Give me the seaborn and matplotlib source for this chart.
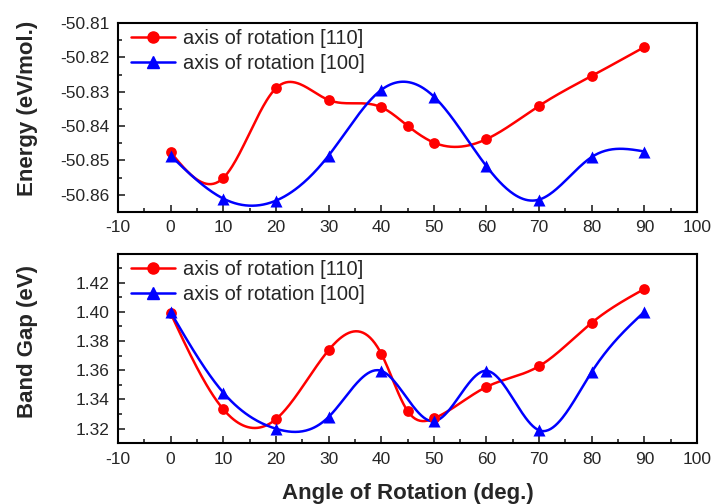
import numpy as np
import seaborn as sns
import matplotlib
matplotlib.use("Agg")
import matplotlib.pyplot as plt
from matplotlib.lines import Line2D
from matplotlib.ticker import MultipleLocator, FormatStrFormatter

# angles (deg.)
angle_110 = [0, 10, 20, 30, 40, 45, 50, 60, 70, 80, 90]
angle_100 = [0, 10, 20, 30, 40, 50, 60, 70, 80, 90]

# energy (eV/mol.)
energy_110 = [-50.8476, -50.8551, -50.8290, -50.8324, -50.8345, -50.8399,
              -50.8448, -50.8438, -50.8341, -50.8254, -50.8170]
energy_100 = [-50.8486, -50.8611, -50.8617, -50.8486, -50.8295, -50.8314,
              -50.8517, -50.8614, -50.8490, -50.8474]

# band gap (eV)
gap_110 = [1.3989, 1.3333, 1.3265, 1.3737, 1.3714, 1.3322,
           1.3270, 1.3486, 1.3628, 1.3925, 1.4156]
gap_100 = [1.3997, 1.3447, 1.3200, 1.3280, 1.3596, 1.3251,
           1.3596, 1.3189, 1.3589, 1.4000]

labels = ["axis of rotation [110]", "axis of rotation [100]"]
colors = ["#ff0000", "#0000ff"]
markers = ["o", "^"]


def smooth(x, y, n=400):
    # natural cubic spline through the points, for drawing the curve only
    x = np.asarray(x, float)
    y = np.asarray(y, float)
    h = np.diff(x)
    m = len(x)
    A = np.zeros((m, m))
    b = np.zeros(m)
    A[0, 0] = A[-1, -1] = 1
    for i in range(1, m - 1):
        A[i, i - 1] = h[i - 1]
        A[i, i] = 2 * (h[i - 1] + h[i])
        A[i, i + 1] = h[i]
        b[i] = 6 * ((y[i + 1] - y[i]) / h[i] - (y[i] - y[i - 1]) / h[i - 1])
    M = np.linalg.solve(A, b)
    xs = np.linspace(x[0], x[-1], n)
    k = np.clip(np.searchsorted(x, xs) - 1, 0, m - 2)
    t0 = x[k + 1] - xs
    t1 = xs - x[k]
    hk = h[k]
    ys = (M[k] * t0 ** 3 + M[k + 1] * t1 ** 3) / (6 * hk) \
        + (y[k] / hk - M[k] * hk / 6) * t0 + (y[k + 1] / hk - M[k + 1] * hk / 6) * t1
    return xs, ys


sns.set_style("ticks")
plt.rcParams['font.family'] = ['Liberation Sans', 'DejaVu Sans']
plt.rcParams['axes.unicode_minus'] = False

fig = plt.figure(figsize=(7.13, 5.04), dpi=100)
ax1 = fig.add_axes([0.1655, 0.5794, 0.8121, 0.375])
ax2 = fig.add_axes([0.1655, 0.1204, 0.8121, 0.3756])

panels = [
    (ax1, [energy_110, energy_100], "Energy (eV/mol.)", (-50.865, -50.81), 0.01, 0.005, 0.55),
    (ax2, [gap_110, gap_100], "Band Gap (eV)", (1.31, 1.4395), 0.02, 0.01, 0.54),
]

for ax, series, ylab, ylim, major, minor, ly in panels:
    for xs, ys, col, mk in zip([angle_110, angle_100], series, colors, markers):
        sx, sy = smooth(xs, ys)
        sns.lineplot(x=sx, y=sy, color=col, linewidth=1.8, ax=ax, legend=False,
                     estimator=None, sort=False)
        sns.scatterplot(x=xs, y=ys, color=col, marker=mk, s=60 if mk == "o" else 75,
                        edgecolor=col, linewidth=0, ax=ax, legend=False, zorder=3)
    ax.set_xlim(-10, 100)
    ax.set_ylim(*ylim)
    ax.xaxis.set_major_locator(MultipleLocator(10))
    ax.xaxis.set_minor_locator(MultipleLocator(5))
    ax.yaxis.set_major_locator(MultipleLocator(major))
    ax.yaxis.set_minor_locator(MultipleLocator(minor))
    ax.yaxis.set_major_formatter(FormatStrFormatter("%.2f"))
    ax.tick_params(which="major", direction="in", length=5, width=1.2,
                   labelsize=12.5, pad=6)
    ax.tick_params(which="minor", direction="in", length=3, width=1.2)
    for sp in ax.spines.values():
        sp.set_linewidth(1.5)
        sp.set_color("black")
    ax.set_ylabel(ylab, fontsize=16, fontweight="bold")
    ax.yaxis.set_label_coords(-0.139, ly)
    ax.set_xlabel("")
    handles = [Line2D([], [], color=c, marker=m, linewidth=1.8, markersize=8)
               for c, m in zip(colors, markers)]
    ax.legend(handles, labels, loc="upper left", bbox_to_anchor=(0.012, 1.0),
              frameon=False, fontsize=14.5, handlelength=2.2, handletextpad=0.4,
              borderaxespad=0.1, labelspacing=0.3, borderpad=0.2)

ax2.set_xlabel("Angle of Rotation (deg.)", fontsize=16, fontweight="bold", labelpad=12)

fig.savefig("out.png", dpi=100)
